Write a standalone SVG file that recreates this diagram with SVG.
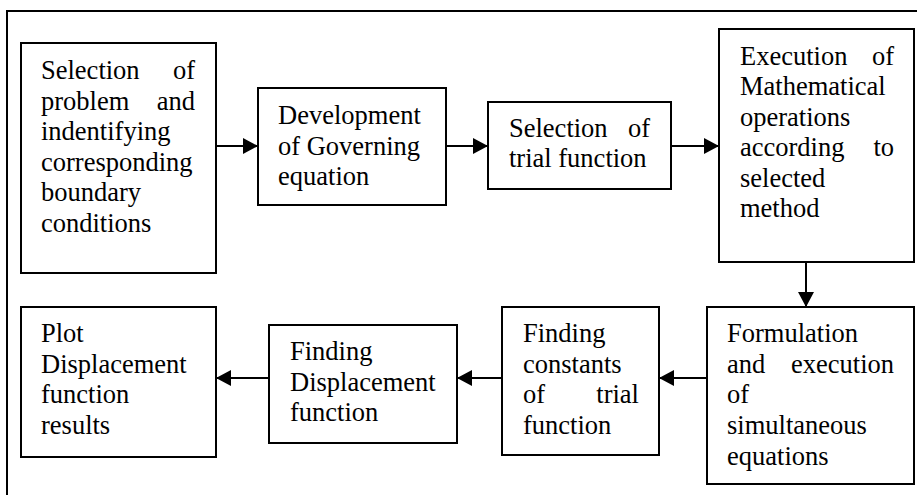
<svg xmlns="http://www.w3.org/2000/svg" width="917" height="495" viewBox="0 0 917 495">
<defs>
<style>
.box{fill:#fff;stroke:#000;stroke-width:2}
.t{font-family:"Liberation Serif","Times New Roman",serif;font-size:26.5px;fill:#000}
.e{text-anchor:end}
.c{stroke:#000;stroke-width:2;fill:none}
</style>
<marker id="ah" viewBox="0 0 15 16" refX="15" refY="8" markerWidth="15" markerHeight="16" markerUnits="userSpaceOnUse" orient="auto">
<path d="M0,0 L15,8 L0,16 Z" fill="#000"/>
</marker>
</defs>
<rect x="0" y="0" width="917" height="495" fill="#fff"/>
<rect x="7" y="11" width="920" height="500" fill="none" stroke="#000" stroke-width="2"/>
<g id="n1">
<rect class="box" x="21" y="43" width="195" height="230"/>
<text class="t" x="41" y="79">Selection</text><text class="t e" x="195" y="79">of</text>
<text class="t" x="41" y="110">problem</text><text class="t e" x="195" y="110">and</text>
<text class="t" x="41" y="140">indentifying</text>
<text class="t" x="41" y="171">corresponding</text>
<text class="t" x="41" y="201">boundary</text>
<text class="t" x="41" y="232">conditions</text>
</g>
<g id="n2">
<rect class="box" x="258" y="88" width="188" height="117"/>
<text class="t" x="278" y="124">Development</text>
<text class="t" x="278" y="155">of Governing</text>
<text class="t" x="278" y="185">equation</text>
</g>
<g id="n3">
<rect class="box" x="488" y="102" width="183" height="87"/>
<text class="t" x="509" y="137">Selection</text><text class="t e" x="650" y="137">of</text>
<text class="t" x="509" y="167">trial function</text>
</g>
<g id="n4">
<rect class="box" x="719" y="29" width="195" height="233"/>
<text class="t" x="740" y="65">Execution</text><text class="t e" x="894" y="65">of</text>
<text class="t" x="740" y="95">Mathematical</text>
<text class="t" x="740" y="126">operations</text>
<text class="t" x="740" y="156">according</text><text class="t e" x="894" y="156">to</text>
<text class="t" x="740" y="187">selected</text>
<text class="t" x="740" y="217">method</text>
</g>
<g id="n5">
<rect class="box" x="707" y="307" width="207" height="177"/>
<text class="t" x="727" y="342">Formulation</text>
<text class="t" x="727" y="373">and</text><text class="t e" x="894" y="373">execution</text>
<text class="t" x="727" y="403">of</text>
<text class="t" x="727" y="434">simultaneous</text>
<text class="t" x="727" y="465">equations</text>
</g>
<g id="n6">
<rect class="box" x="502" y="307" width="157" height="148"/>
<text class="t" x="523" y="342">Finding</text>
<text class="t" x="523" y="373">constants</text>
<text class="t" x="523" y="403">of</text><text class="t e" x="639" y="403">trial</text>
<text class="t" x="523" y="434">function</text>
</g>
<g id="n7">
<rect class="box" x="269" y="325" width="188" height="118"/>
<text class="t" x="290" y="360">Finding</text>
<text class="t" x="290" y="391">Displacement</text>
<text class="t" x="290" y="421">function</text>
</g>
<g id="n8">
<rect class="box" x="21" y="307" width="195" height="150"/>
<text class="t" x="41" y="342">Plot</text>
<text class="t" x="41" y="373">Displacement</text>
<text class="t" x="41" y="403">function</text>
<text class="t" x="41" y="434">results</text>
</g>
<g id="connectors">
<line class="c" x1="216" y1="146" x2="258" y2="146" marker-end="url(#ah)"/>
<line class="c" x1="446" y1="146" x2="488" y2="146" marker-end="url(#ah)"/>
<line class="c" x1="671" y1="146" x2="719" y2="146" marker-end="url(#ah)"/>
<line class="c" x1="806" y1="262" x2="806" y2="307" marker-end="url(#ah)"/>
<line class="c" x1="707" y1="378" x2="659" y2="378" marker-end="url(#ah)"/>
<line class="c" x1="502" y1="378" x2="457" y2="378" marker-end="url(#ah)"/>
<line class="c" x1="269" y1="378" x2="216" y2="378" marker-end="url(#ah)"/>
</g>
</svg>
